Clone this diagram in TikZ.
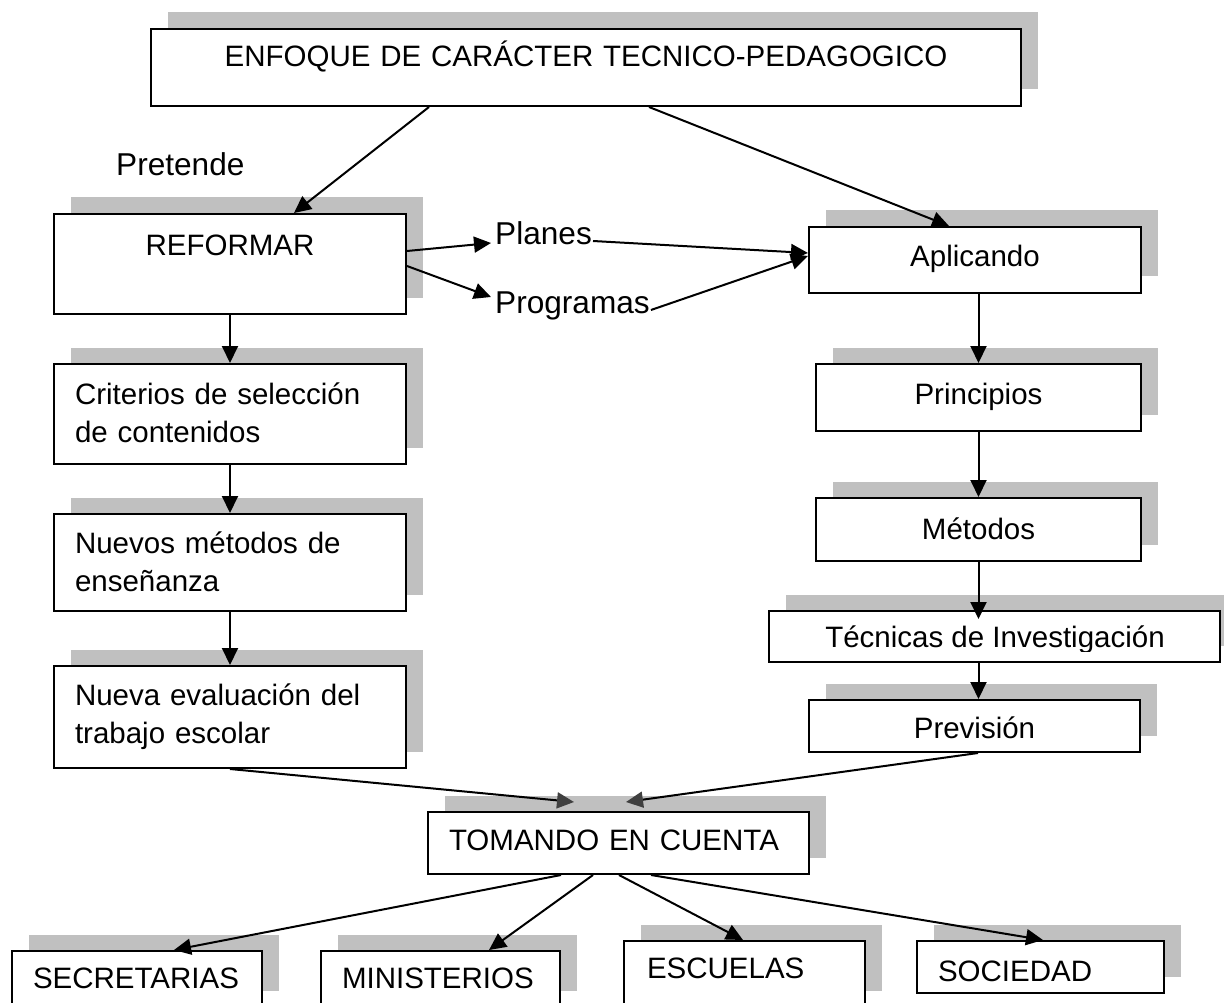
\documentclass[tikz,border=0pt]{standalone}
\usepackage{fontspec}
\setmainfont{Liberation Sans}
\usetikzlibrary{arrows.meta,shadows,calc}
\definecolor{shgray}{RGB}{192,192,192}
\definecolor{headgray}{RGB}{64,64,64}
\newcommand\bxfont{\fontsize{29.5}{38}\selectfont}
\newcommand\lbfont{\fontsize{31.6}{38}\selectfont}
\tikzset{
  box/.style={draw, line width=2pt, fill=white, inner sep=0pt, anchor=north west, font=\bxfont,
    drop shadow={shadow xshift=16.5pt, shadow yshift=16.5pt, fill=shgray, opacity=1}},
  cbox/.style={box, align=center},
  lbox/.style={box, align=left, inner xsep=21pt},
  lbl/.style={inner sep=0pt, anchor=base west, font=\lbfont},
  arr/.style={line width=2pt, -{Triangle[length=17pt,width=16pt]}},
  garr/.style={line width=2pt, -{Triangle[length=17pt,width=16pt,color=headgray]}}
}
\begin{document}
\begin{tikzpicture}[x=1pt,y=-1pt]
\useasboundingbox (0,0) rectangle (1224,1003);
\clip (0,0) rectangle (1224,1003);
% boxes
\node[cbox, text width=870pt, text height=38pt, text depth=39pt] (top) at (150,28) {ENFOQUE DE CARÁCTER TECNICO-PEDAGOGICO};
\node[cbox, text width=352pt, text height=42pt, text depth=58pt] (ref) at (53,213) {REFORMAR};
\node[cbox, text width=332pt, text height=40pt, text depth=26pt] (apl) at (808,226) {Aplicando};
\node[lbox, text width=310pt, text height=40pt, text depth=60pt] (cri) at (53,363) {Criterios de selección\\de contenidos};
\node[lbox, text width=310pt, text height=39pt, text depth=58pt] (nue) at (53,513) {Nuevos métodos de\\enseñanza};
\node[lbox, text width=310pt, text height=39pt, text depth=63pt] (nev) at (53,665) {Nueva evaluación del\\trabajo escolar};
\node[cbox, text width=325pt, text height=40pt, text depth=27pt] (pri) at (815,363) {Principios};
\node[cbox, text width=325pt, text height=41pt, text depth=22pt] (met) at (815,497) {Métodos};
\node[cbox, text width=451pt, text height=51pt, text depth=0pt] (tec) at (768,610) {};
\begin{scope}
  \clip (768,600) rectangle (1219,651);
  \node[inner sep=0pt, anchor=base, font=\bxfont] (tect) at (995,647) {Técnicas de Investigación};
\end{scope}
\node[cbox, text width=331pt, text height=38pt, text depth=14pt] (pre) at (808,699) {Previsión};
\node[lbox, text width=339pt, text height=38pt, text depth=24pt] (tom) at (427,811) {TOMANDO EN CUENTA};
\node[lbox, text width=208pt, text height=37pt, text depth=19pt] (sec) at (11,950) {SECRETARIAS};
\node[lbox, text width=197pt, text height=37pt, text depth=19pt] (min) at (320,950) {MINISTERIOS};
\node[lbox, inner xsep=23pt, text width=195pt, text height=37pt, text depth=29pt] (esc) at (623,940) {ESCUELAS};
\node[lbox, text width=205pt, text height=40pt, text depth=12pt] (soc) at (916,940) {SOCIEDAD};
% labels
\node[lbl] (pret) at (116,176) {Pretende};
\node[lbl] (pl) at (495,245) {Planes};
\node[lbl] (pg) at (495,313) {Programas};
% connectors
\draw[arr] ([xshift=-157pt]top.south) -- ([xshift=64pt]ref.north);
\draw[arr] ([xshift=63pt]top.south) -- ([xshift=-26pt]apl.north);
\draw[arr] ([yshift=13pt]ref.east) -- ([xshift=-4pt,yshift=2pt]pl.base west);
\draw[arr] ([yshift=-2pt]ref.east) -- ([xshift=-4pt,yshift=16pt]pg.base west);
\draw[arr] ([xshift=1pt,yshift=4pt]pl.base east) -- ([yshift=7pt]apl.west);
\draw[arr] ([xshift=1pt,yshift=3pt]pg.base east) -- ([yshift=4pt]apl.west);
\draw[arr] (ref.south) -- (cri.north);
\draw[arr] (cri.south) -- (nue.north);
\draw[arr] (nue.south) -- (nev.north);
\draw[arr] (pri.north |- apl.south) -- (pri.north);
\draw[arr] (pri.south) -- (met.north);
\draw[arr, shorten >=-9pt] (met.south) -- (met.south |- tec.north);
\draw[arr] (met.south |- tec.south) -- (met.south |- pre.north);
\draw[garr] (nev.south) -- ([xshift=-44.5pt,yshift=9pt]tom.north);
\draw[garr] ([xshift=3.5pt]pre.south) -- ([xshift=7.5pt,yshift=9pt]tom.north);
\draw[arr] ([xshift=-57.5pt]tom.south) -- ([xshift=37pt]sec.north);
\draw[arr] ([xshift=-25.5pt]tom.south) -- ([xshift=48.5pt]min.north);
\draw[arr] ([xshift=0.5pt]tom.south) -- ([xshift=-1.5pt]esc.north);
\draw[arr] ([xshift=32.5pt]tom.south) -- ([xshift=2.5pt]soc.north);
\end{tikzpicture}
\end{document}
